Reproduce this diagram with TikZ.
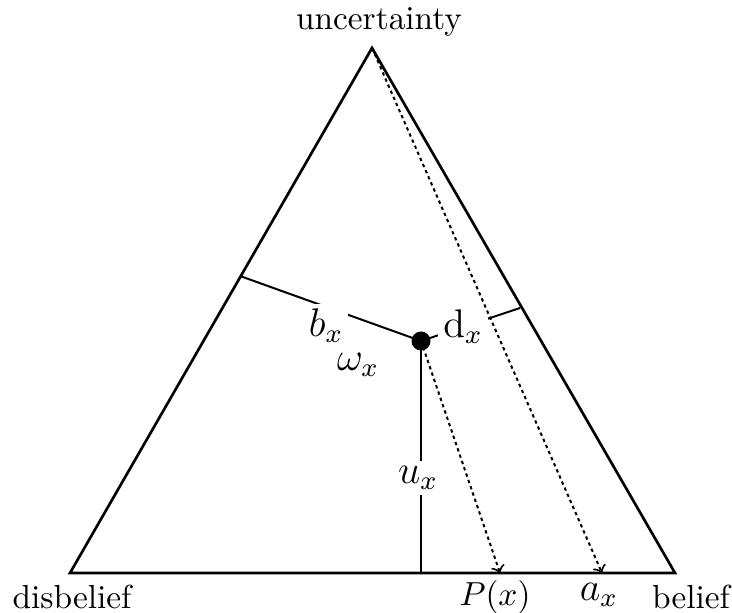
\documentclass[tikz,border=0pt]{standalone}
\usepackage{amsmath}

\tikzset{
  side/.style={thick},
  part/.style={semithick},
  probe/.style={semithick,->,dash pattern=on 1pt off 1pt},
  lbl/.style={fill=white,inner sep=1.5pt},
  big/.style={font=\large}
}

\begin{document}
\begin{tikzpicture}[x=0.3pt,y=-0.3pt]
  \useasboundingbox (0,0) rectangle (732,613);
  % corners of the opinion triangle
  \coordinate (unc) at (372,48);
  \coordinate (dis) at (70,573);
  \coordinate (bel) at (675,573);
  \coordinate (w) at (421,341);
  \coordinate (bfoot) at (240,276);
  \coordinate (dfoot) at (520,308);
  \coordinate (ufoot) at (421,573);
  \coordinate (pfoot) at (500,573);
  \coordinate (afoot) at (602,573);

  \draw[side,line join=miter] (dis) -- (bel) -- (unc) -- cycle;
  \node (nunc) at (379,22) {uncertainty};
  \node (ndis) at (72,597) {disbelief};
  \node (nbel) at (691,597) {belief};

  % mass components
  \draw[part] (w) -- (bfoot);
  \draw[part] (w) -- (dfoot);
  \draw[part] (w) -- (ufoot);
  \node[lbl,big] (nb) at (326,326) {$b_x$};
  \node[lbl,big] (nd) at (463,327) {$\mathrm{d}_x$};
  \node[lbl,big] (nu) at (418,478) {$u_x$};

  % projections onto the base
  \draw[probe] (w) -- (pfoot);
  \draw[probe] (unc) -- (afoot);
  \node (np) at (495,597) {$P(x)$};
  \node[big] (na) at (599,595) {$a_x$};

  \fill (w) circle (9.5);
  \node[big] (nw) at (358,365) {$\omega_x$};
\end{tikzpicture}
\end{document}
